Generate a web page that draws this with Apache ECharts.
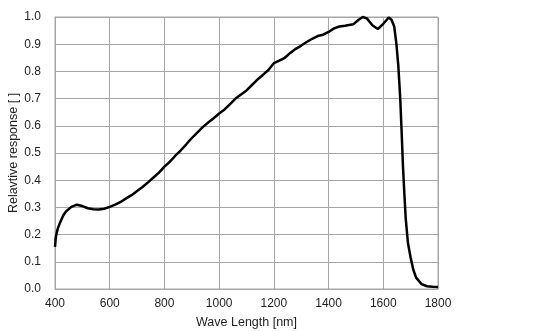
<!DOCTYPE html>
<html>
<head>
<meta charset="utf-8">
<script src="https://cdn.jsdelivr.net/npm/echarts@6/dist/echarts.min.js"></script>
<style>
  html, body { margin: 0; padding: 0; background: #fff; }
  #chart { width: 554px; height: 331px; }
</style>
</head>
<body>
<div id="chart"></div>
<script>
// Spectral response curve: wavelength (nm) vs relative response
const wavelengths = [
  400, 403, 406, 410, 418, 430, 440, 460, 480, 500, 520, 540, 560, 580, 600, 620, 640, 660, 680, 700,
  720, 740, 760, 780, 800, 820, 840, 860, 880, 900, 920, 940, 960, 980, 1000, 1020, 1040,
  1060, 1080, 1100, 1120, 1140, 1160, 1180, 1200, 1220, 1240, 1260, 1280, 1300, 1320, 1340,
  1360, 1380, 1400, 1420, 1440, 1460, 1490, 1510, 1525, 1540, 1560, 1580, 1600, 1620, 1630,
  1640, 1648, 1655, 1662, 1667, 1672, 1677, 1682, 1690, 1700, 1710, 1720, 1740, 1760, 1780, 1800
];
const response = [
  0.155, 0.19, 0.205, 0.222, 0.243, 0.27, 0.285, 0.302, 0.31, 0.305, 0.297, 0.293, 0.292, 0.295,
  0.302, 0.31, 0.32, 0.333, 0.345, 0.36, 0.375, 0.392, 0.41, 0.428, 0.45, 0.468, 0.49, 0.51,
  0.532, 0.555, 0.575, 0.595, 0.612, 0.628, 0.645, 0.66, 0.68, 0.7, 0.715, 0.73, 0.75, 0.77,
  0.787, 0.805, 0.83, 0.84, 0.85, 0.868, 0.883, 0.895, 0.908, 0.92, 0.93, 0.935, 0.945, 0.958,
  0.965, 0.968, 0.973, 0.99, 1.0, 0.995, 0.97, 0.956, 0.975, 0.998, 0.99, 0.965, 0.9, 0.82,
  0.7, 0.58, 0.45, 0.35, 0.26, 0.17, 0.115, 0.07, 0.042, 0.018, 0.01, 0.008, 0.007
];

const xTitle = 'Wave Length [nm]';
const yTitle = 'Relavtive response [ ]';

const gridColor = '#a6a6a6';
const textColor = '#1f1f1f';
const fontFamily = '"Liberation Sans", Arial, sans-serif';

const chart = echarts.init(document.getElementById('chart'), null, { renderer: 'canvas' });
chart.setOption({
  animation: false,
  backgroundColor: '#ffffff',
  grid: { left: 55, right: 116, top: 17, bottom: 42, containLabel: false,
          outerBoundsMode: 'none',
          show: true, borderColor: gridColor, borderWidth: 1 },
  xAxis: {
    type: 'value', min: 400, max: 1800, interval: 200,
    name: xTitle, nameLocation: 'middle', nameGap: 27, nameMoveOverlap: false,
    nameTextStyle: { color: textColor, fontSize: 12.5, fontFamily },
    axisLine: { show: true, lineStyle: { color: gridColor, width: 1 } },
    axisTick: { show: false },
    axisLabel: { color: textColor, fontSize: 12, fontFamily, margin: 9,
                 formatter: v => String(v) },
    splitLine: { show: true, lineStyle: { color: gridColor, width: 1 } }
  },
  yAxis: {
    type: 'value', min: 0, max: 1, interval: 0.1,
    name: yTitle, nameLocation: 'middle', nameGap: 35, nameMoveOverlap: false,
    nameTextStyle: { color: textColor, fontSize: 12.5, fontFamily },
    axisLine: { show: true, lineStyle: { color: gridColor, width: 1 } },
    axisTick: { show: false },
    axisLabel: { color: textColor, fontSize: 12, fontFamily, margin: 14,
                 formatter: v => v.toFixed(1) },
    splitLine: { show: true, lineStyle: { color: gridColor, width: 1 } }
  },
  series: [{
    type: 'line',
    data: wavelengths.map((w, i) => [w, response[i]]),
    showSymbol: false,
    smooth: false,
    lineStyle: { color: '#000000', width: 2.5 },
    clip: false
  }]
});
</script>
</body>
</html>
